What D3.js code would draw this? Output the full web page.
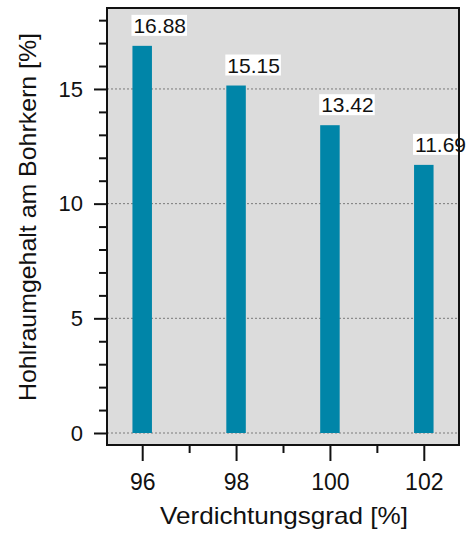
<!DOCTYPE html>
<html><head><meta charset="utf-8">
<script src="https://cdn.jsdelivr.net/npm/d3@7"></script>
<style>body{margin:0;background:#fff;} text{font-family:"Liberation Sans",Arial,sans-serif;}</style>
</head><body><svg id="c" width="467" height="533"></svg>
<script>
const categories = [96, 98, 100, 102];
const values = [16.88, 15.15, 13.42, 11.69];
const labels = ["16.88", "15.15", "13.42", "11.69"];
const yMajorTicks = [0, 5, 10, 15];
const yMinorTicks = [1,2,3,4,6,7,8,9,11,12,13,14,16,17,18];
const xMinorTicks = [97, 99, 101];

const svg = d3.select("#c");
const L = 107, R = 459, T = 8, B = 445;
const x = d3.scaleLinear().domain([95.25, 102.75]).range([L, R]);
const y = d3.scaleLinear().domain([0, 18.53]).range([433, T]);

svg.append("rect").attr("x", L).attr("y", T).attr("width", R - L).attr("height", B - T).attr("fill", "#dcdcdc");

// gridlines
svg.selectAll(".grid").data(yMajorTicks).enter().append("line")
  .attr("x1", L).attr("x2", R).attr("y1", d => y(d)).attr("y2", d => y(d))
  .attr("stroke", "#7a7a7a").attr("stroke-width", 1).attr("stroke-dasharray", "2,2");

const bw = 19.5;
svg.selectAll(".bar").data(values).enter().append("rect")
  .attr("x", (d, i) => x(categories[i]) - bw / 2)
  .attr("y", d => y(d)).attr("width", bw).attr("height", d => y(0) - y(d))
  .attr("fill", "#0085a8");

// value labels
const g = svg.append("g");
values.forEach((v, i) => {
  const tx = x(categories[i]) - bw / 2 + 1, ty = y(v) - 13;
  const t = g.append("text").attr("x", tx).attr("y", ty).attr("font-size", 21).attr("fill", "#111").text(labels[i]);
  const bb = t.node().getBBox();
  g.insert("rect", "text").attr("x", bb.x - 2).attr("y", bb.y + 1).attr("width", bb.width + 3).attr("height", bb.height - 2).attr("fill", "#fff");
});

// frame
svg.append("rect").attr("x", L).attr("y", T).attr("width", R - L).attr("height", B - T)
  .attr("fill", "none").attr("stroke", "#111").attr("stroke-width", 2);

// y axis
const yAx = svg.append("g").attr("transform", `translate(${L - 1},0)`)
  .call(d3.axisLeft(y).tickValues(yMajorTicks).tickSize(12).tickPadding(11).tickFormat(d3.format("d")));
yAx.select(".domain").remove();
yAx.selectAll("line").attr("stroke", "#111").attr("stroke-width", 2);
yAx.selectAll("text").attr("font-size", 22).attr("fill", "#111").style("font-family", "Liberation Sans, Arial, sans-serif");
const yMin = svg.append("g").attr("transform", `translate(${L - 1},0)`)
  .call(d3.axisLeft(y).tickValues(yMinorTicks).tickSize(7).tickFormat(""));
yMin.select(".domain").remove();
yMin.selectAll("line").attr("stroke", "#111").attr("stroke-width", 2);

// x axis
const xAx = svg.append("g").attr("transform", `translate(0,${B + 1})`)
  .call(d3.axisBottom(x).tickValues(categories).tickSize(15).tickPadding(13).tickFormat(d3.format("d")));
xAx.select(".domain").remove();
xAx.selectAll("line").attr("stroke", "#111").attr("stroke-width", 2);
xAx.selectAll("text").attr("font-size", 23).attr("fill", "#111").style("font-family", "Liberation Sans, Arial, sans-serif");
const xMin = svg.append("g").attr("transform", `translate(0,${B + 1})`)
  .call(d3.axisBottom(x).tickValues(xMinorTicks).tickSize(7).tickFormat(""));
xMin.select(".domain").remove();
xMin.selectAll("line").attr("stroke", "#111").attr("stroke-width", 2);

svg.append("text").attr("x", (L + R) / 2 + 1).attr("y", 524).attr("text-anchor", "middle")
  .attr("font-size", 24).attr("fill", "#111")
  .attr("textLength", 248).attr("lengthAdjust", "spacingAndGlyphs").text("Verdichtungsgrad [%]");
svg.append("text").attr("transform", "translate(36,217) rotate(-90)").attr("text-anchor", "middle")
  .attr("font-size", 24).attr("fill", "#111")
  .attr("textLength", 368).attr("lengthAdjust", "spacingAndGlyphs").text("Hohlraumgehalt am Bohrkern [%]");
</script></body></html>
